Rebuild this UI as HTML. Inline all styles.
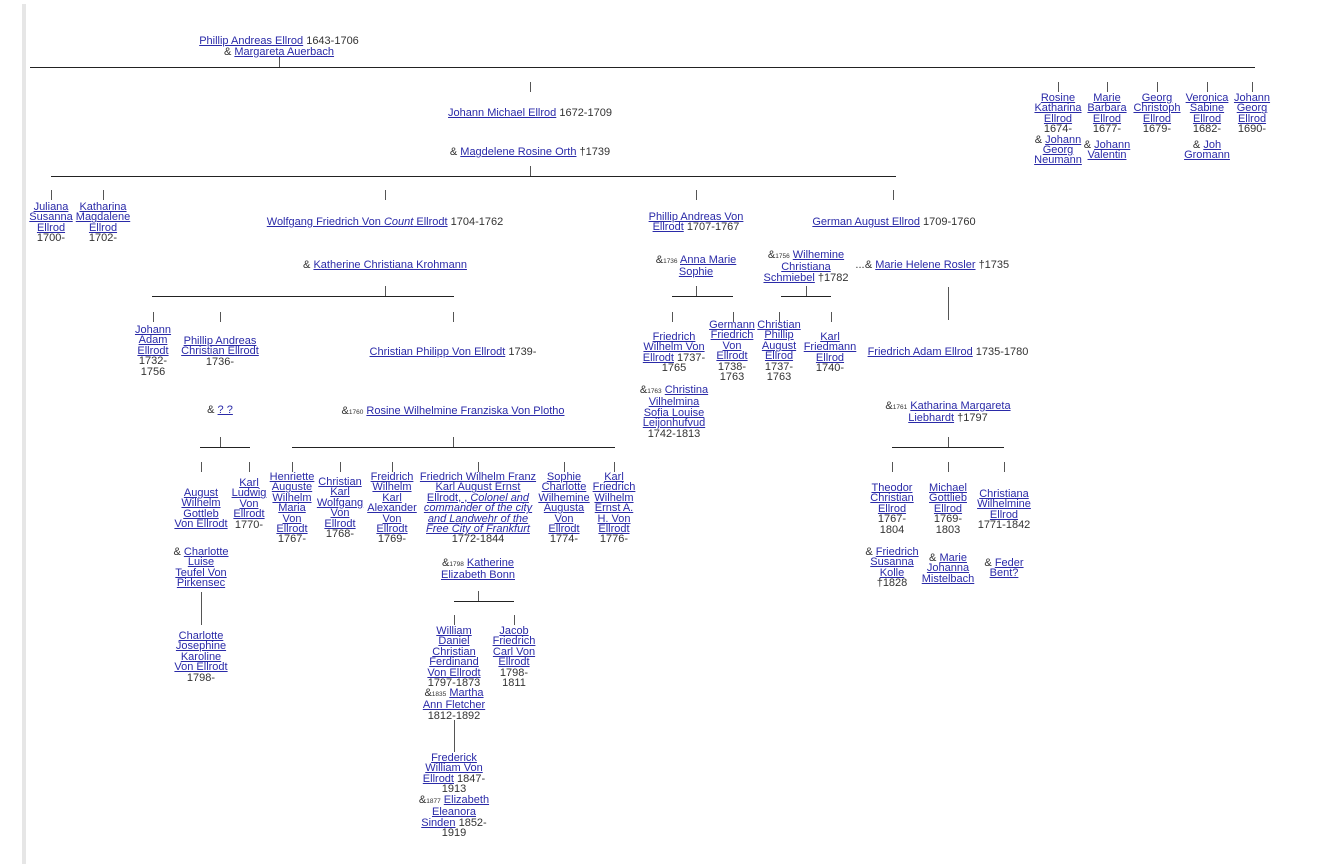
<!DOCTYPE html>
<html><head><meta charset="utf-8"><style>
body{margin:0;width:1319px;height:864px;background:#fff;position:relative;overflow:hidden;font-family:"Liberation Sans",sans-serif;font-size:11px;color:#333}
.bar{position:absolute;left:22px;top:4px;width:4px;height:860px;background:#e6e6e6}
.n{position:absolute;transform:translateX(-50%);text-align:center;white-space:nowrap;line-height:10.4px}
a{color:#2a2aa8;text-decoration:underline}
small{font-size:6.5px}
.h{position:absolute;height:1px;background:#222}
.v{position:absolute;width:1px;background:#555}
</style></head><body>
<div class="bar"></div>

<div class="n" style="left:279px;top:36px"><a>Phillip Andreas Ellrod</a> 1643-1706</div>
<div class="n" style="left:279px;top:47px">&amp; <a>Margareta Auerbach</a></div>
<div class="v" style="left:279px;top:57px;height:10px"></div>
<div class="h" style="left:30px;top:67px;width:1225px"></div>

<div class="v" style="left:530px;top:82px;height:10px"></div>
<div class="n" style="left:530px;top:108px"><a>Johann Michael Ellrod</a> 1672-1709</div>
<div class="n" style="left:530px;top:147px">&amp; <a>Magdelene Rosine Orth</a> †1739</div>
<div class="v" style="left:530px;top:166px;height:10px"></div>
<div class="h" style="left:51px;top:176px;width:845px"></div>

<div class="v" style="left:1058px;top:82px;height:10px"></div>
<div class="v" style="left:1107px;top:82px;height:10px"></div>
<div class="v" style="left:1157px;top:82px;height:10px"></div>
<div class="v" style="left:1207px;top:82px;height:10px"></div>
<div class="v" style="left:1252px;top:82px;height:10px"></div>
<div class="n" style="left:1058px;top:93px"><a>Rosine<br>Katharina<br>Ellrod</a><br>1674-<br>&amp; <a>Johann</a><br><a>Georg<br>Neumann</a></div>
<div class="n" style="left:1107px;top:93px"><a>Marie<br>Barbara<br>Ellrod</a><br>1677-</div>
<div class="n" style="left:1107px;top:140px">&amp; <a>Johann</a><br><a>Valentin</a></div>
<div class="n" style="left:1157px;top:93px"><a>Georg<br>Christoph<br>Ellrod</a><br>1679-</div>
<div class="n" style="left:1207px;top:93px"><a>Veronica<br>Sabine<br>Ellrod</a><br>1682-</div>
<div class="n" style="left:1207px;top:140px">&amp; <a>Joh</a><br><a>Gromann</a></div>
<div class="n" style="left:1252px;top:93px"><a>Johann<br>Georg<br>Ellrod</a><br>1690-</div>

<div class="v" style="left:51px;top:190px;height:10px"></div>
<div class="v" style="left:103px;top:190px;height:10px"></div>
<div class="v" style="left:385px;top:190px;height:10px"></div>
<div class="v" style="left:696px;top:190px;height:10px"></div>
<div class="v" style="left:893px;top:190px;height:10px"></div>
<div class="n" style="left:51px;top:202px"><a>Juliana<br>Susanna<br>Ellrod</a><br>1700-</div>
<div class="n" style="left:103px;top:202px"><a>Katharina<br>Magdalene<br>Ellrod</a><br>1702-</div>

<div class="n" style="left:385px;top:217px"><a>Wolfgang Friedrich Von <i>Count</i> Ellrodt</a> 1704-1762</div>
<div class="n" style="left:385px;top:260px">&amp; <a>Katherine Christiana Krohmann</a></div>
<div class="v" style="left:385px;top:286px;height:10px"></div>
<div class="h" style="left:152px;top:296px;width:302px"></div>

<div class="n" style="left:696px;top:212px"><a>Phillip Andreas Von</a><br><a>Ellrodt</a> 1707-1767</div>
<div class="n" style="left:696px;top:255px">&amp;<small>1736</small> <a>Anna Marie</a><br><a>Sophie</a></div>
<div class="v" style="left:696px;top:286px;height:10px"></div>
<div class="h" style="left:672px;top:296px;width:61px"></div>

<div class="n" style="left:894px;top:217px"><a>German August Ellrod</a> 1709-1760</div>
<div class="n" style="left:806px;top:250px">&amp;<small>1756</small> <a>Wilhemine</a><br><a>Christiana</a><br><a>Schmiebel</a> †1782</div>
<div class="n" style="left:860px;top:260px">...</div>
<div class="n" style="left:937px;top:260px">&amp; <a>Marie Helene Rosler</a> †1735</div>
<div class="v" style="left:806px;top:286px;height:10px"></div>
<div class="h" style="left:781px;top:296px;width:50px"></div>
<div class="v" style="left:948px;top:287px;height:33px"></div>

<div class="v" style="left:153px;top:312px;height:10px"></div>
<div class="v" style="left:220px;top:312px;height:10px"></div>
<div class="v" style="left:453px;top:312px;height:10px"></div>
<div class="n" style="left:153px;top:325px"><a>Johann<br>Adam<br>Ellrodt</a><br>1732-<br>1756</div>
<div class="n" style="left:220px;top:336px"><a>Phillip Andreas<br>Christian Ellrodt</a><br>1736-</div>
<div class="n" style="left:453px;top:347px"><a>Christian Philipp Von Ellrodt</a> 1739-</div>
<div class="n" style="left:220px;top:405px">&amp; <a>? ?</a></div>
<div class="n" style="left:453px;top:406px">&amp;<small>1760</small> <a>Rosine Wilhelmine Franziska Von Plotho</a></div>
<div class="v" style="left:220px;top:437px;height:10px"></div>
<div class="h" style="left:200px;top:447px;width:50px"></div>
<div class="v" style="left:453px;top:437px;height:10px"></div>
<div class="h" style="left:292px;top:447px;width:323px"></div>

<div class="v" style="left:201px;top:462px;height:10px"></div>
<div class="v" style="left:249px;top:462px;height:10px"></div>
<div class="v" style="left:292px;top:462px;height:10px"></div>
<div class="v" style="left:340px;top:462px;height:10px"></div>
<div class="v" style="left:392px;top:462px;height:10px"></div>
<div class="v" style="left:478px;top:462px;height:10px"></div>
<div class="v" style="left:564px;top:462px;height:10px"></div>
<div class="v" style="left:614px;top:462px;height:10px"></div>
<div class="n" style="left:201px;top:488px"><a>August<br>Wilhelm<br>Gottleb<br>Von Ellrodt</a></div>
<div class="n" style="left:249px;top:478px"><a>Karl<br>Ludwig<br>Von<br>Ellrodt</a><br>1770-</div>
<div class="n" style="left:292px;top:472px"><a>Henriette<br>Auguste<br>Wilhelm<br>Maria<br>Von<br>Ellrodt</a><br>1767-</div>
<div class="n" style="left:340px;top:477px"><a>Christian<br>Karl<br>Wolfgang<br>Von<br>Ellrodt</a><br>1768-</div>
<div class="n" style="left:392px;top:472px"><a>Freidrich<br>Wilhelm<br>Karl<br>Alexander<br>Von<br>Ellrodt</a><br>1769-</div>
<div class="n" style="left:478px;top:472px"><a>Friedrich Wilhelm Franz<br>Karl August Ernst<br>Ellrodt, , <i>Colonel and<br>commander of the city<br>and Landwehr of the<br>Free City of Frankfurt</i></a><br>1772-1844</div>
<div class="n" style="left:564px;top:472px"><a>Sophie<br>Charlotte<br>Wilhemine<br>Augusta<br>Von<br>Ellrodt</a><br>1774-</div>
<div class="n" style="left:614px;top:472px"><a>Karl<br>Friedrich<br>Wilhelm<br>Ernst A.<br>H. Von<br>Ellrodt</a><br>1776-</div>

<div class="n" style="left:201px;top:547px">&amp; <a>Charlotte</a><br><a>Luise<br>Teufel Von<br>Pirkensec</a></div>
<div class="v" style="left:201px;top:592px;height:33px"></div>
<div class="n" style="left:201px;top:631px"><a>Charlotte<br>Josephine<br>Karoline<br>Von Ellrodt</a><br>1798-</div>

<div class="n" style="left:478px;top:558px">&amp;<small>1798</small> <a>Katherine</a><br><a>Elizabeth Bonn</a></div>
<div class="v" style="left:478px;top:591px;height:10px"></div>
<div class="h" style="left:454px;top:601px;width:60px"></div>
<div class="v" style="left:454px;top:615px;height:10px"></div>
<div class="v" style="left:514px;top:615px;height:10px"></div>
<div class="n" style="left:454px;top:626px"><a>William<br>Daniel<br>Christian<br>Ferdinand<br>Von Ellrodt</a><br>1797-1873</div>
<div class="n" style="left:514px;top:626px"><a>Jacob<br>Friedrich<br>Carl Von<br>Ellrodt</a><br>1798-<br>1811</div>
<div class="n" style="left:454px;top:688px">&amp;<small>1835</small> <a>Martha</a><br><a>Ann Fletcher</a><br>1812-1892</div>
<div class="v" style="left:454px;top:720px;height:32px"></div>
<div class="n" style="left:454px;top:753px"><a>Frederick<br>William Von<br>Ellrodt</a> 1847-<br>1913</div>
<div class="n" style="left:454px;top:795px">&amp;<small>1877</small> <a>Elizabeth</a><br><a>Eleanora</a><br><a>Sinden</a> 1852-<br>1919</div>

<div class="v" style="left:672px;top:312px;height:10px"></div>
<div class="v" style="left:733px;top:312px;height:10px"></div>
<div class="v" style="left:779px;top:312px;height:10px"></div>
<div class="v" style="left:831px;top:312px;height:10px"></div>
<div class="n" style="left:674px;top:332px"><a>Friedrich<br>Wilhelm Von<br>Ellrodt</a> 1737-<br>1765</div>
<div class="n" style="left:732px;top:320px"><a>Germann<br>Friedrich<br>Von<br>Ellrodt</a><br>1738-<br>1763</div>
<div class="n" style="left:779px;top:320px"><a>Christian<br>Phillip<br>August<br>Ellrod</a><br>1737-<br>1763</div>
<div class="n" style="left:830px;top:332px"><a>Karl<br>Friedmann<br>Ellrod</a><br>1740-</div>
<div class="n" style="left:674px;top:385px">&amp;<small>1763</small> <a>Christina</a><br><a>Vilhelmina<br>Sofia Louise<br>Leijonhufvud</a><br>1742-1813</div>

<div class="n" style="left:948px;top:347px"><a>Friedrich Adam Ellrod</a> 1735-1780</div>
<div class="n" style="left:948px;top:401px">&amp;<small>1761</small> <a>Katharina Margareta</a><br><a>Liebhardt</a> †1797</div>
<div class="v" style="left:948px;top:437px;height:10px"></div>
<div class="h" style="left:892px;top:447px;width:112px"></div>
<div class="v" style="left:892px;top:462px;height:10px"></div>
<div class="v" style="left:948px;top:462px;height:10px"></div>
<div class="v" style="left:1004px;top:462px;height:10px"></div>
<div class="n" style="left:892px;top:483px"><a>Theodor<br>Christian<br>Ellrod</a><br>1767-<br>1804</div>
<div class="n" style="left:948px;top:483px"><a>Michael<br>Gottlieb<br>Ellrod</a><br>1769-<br>1803</div>
<div class="n" style="left:1004px;top:489px"><a>Christiana<br>Wilhelmine<br>Ellrod</a><br>1771-1842</div>
<div class="n" style="left:892px;top:547px">&amp; <a>Friedrich</a><br><a>Susanna<br>Kolle</a><br>†1828</div>
<div class="n" style="left:948px;top:553px">&amp; <a>Marie</a><br><a>Johanna<br>Mistelbach</a></div>
<div class="n" style="left:1004px;top:558px">&amp; <a>Feder</a><br><a>Bent?</a></div>
</body></html>
